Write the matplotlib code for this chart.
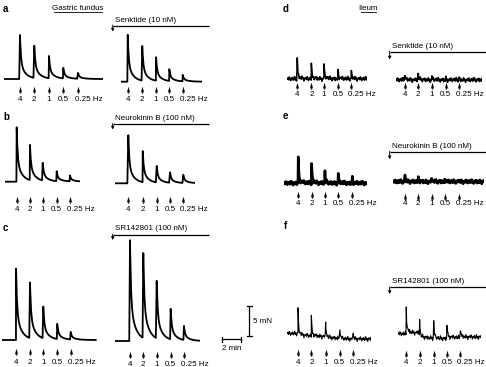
import numpy as np
import matplotlib.pyplot as plt

plt.rcParams["font.family"] = ["Liberation Sans", "DejaVu Sans"]

W, H = 486, 367
PX_MIN = 9.5   # pixels per minute (2 min bar = 19 px)
PX_MN = 5.86   # pixels per mN (5 mN bar = 29.3 px)

freq_labels = ["4", "2", "1", "0.5", "0.25 Hz"]

# peak amplitudes (mN) at 4, 2, 1, 0.5, 0.25 Hz
fundus_ctrl_a = [7.5, 5.5, 3.8, 1.8, 1.0]
fundus_senktide = [8.0, 5.9, 4.0, 2.0, 1.1]
fundus_ctrl_b = [9.3, 6.0, 3.0, 1.7, 1.0]
fundus_nkb = [8.2, 5.3, 2.8, 1.8, 1.4]
fundus_ctrl_c = [12.2, 9.5, 5.4, 2.6, 1.3]
fundus_sr = [17.2, 14.5, 9.8, 5.2, 2.4]
ileum_ctrl_d = [3.4, 2.7, 2.7, 1.7, 1.5]
ileum_senktide = [1.1, 1.2, 0.5, 0.3, 0.3]
ileum_ctrl_e = [4.7, 3.3, 1.9, 1.5, 0.9]
ileum_nkb = [0.9, 0.5, 0.5, 0.3, 0.2]
ileum_ctrl_f = [4.9, 3.6, 2.7, 1.8, 1.0]
ileum_sr = [4.3, 3.0, 3.1, 2.1, 1.4]

# stimulation times (min from start of each trace)
t_ctrl_a = [1.68, 3.19, 4.74, 6.24, 7.79]
t_senktide = [0.74, 2.27, 3.72, 5.12, 6.53]
t_ctrl_b = [1.23, 2.63, 3.97, 5.44, 6.84]
t_nkb = [1.40, 2.92, 4.39, 5.79, 7.19]
t_ctrl_c = [1.51, 2.98, 4.38, 5.85, 7.26]
t_sr = [1.58, 2.98, 4.39, 5.86, 7.26]
t_ctrl_d = [1.05, 2.53, 3.86, 5.34, 6.74]
t_ileum_senk = [0.95, 2.35, 3.82, 5.26, 6.66]
t_ctrl_e = [1.50, 2.91, 4.31, 5.71, 7.19]
t_ileum_nkb = [1.23, 2.63, 4.04, 5.44, 6.91]
t_ctrl_f = [1.13, 2.53, 4.04, 5.52, 6.92]
t_ileum_sr = [0.87, 2.28, 3.76, 5.16, 6.56]

# baseline shifts (mN) before / between / after stimulations
drift_ctrl_f = [0.4, 0.0, -0.1, -0.4, -0.55, -0.55]
drift_ileum_sr = [0.35, 0.5, -0.35, -0.5, -0.3, -0.2]

# small baseline ripple of the ileum recordings (mN)
ripple = [0.0, 0.15, -0.1, 0.25, 0.05, -0.2, 0.1, -0.05, 0.2, -0.15,
          0.0, 0.3, -0.1, 0.1, -0.25, 0.05, 0.15, -0.05, 0.2, -0.2,
          0.1, 0.0, -0.15, 0.25, -0.05, 0.1, -0.3, 0.05]

fig = plt.figure(figsize=(W / 100, H / 100), dpi=100)
page = fig.add_axes([0, 0, 1, 1])
page.set_xlim(0, W)
page.set_ylim(H, 0)
page.axis("off")

arrow_mark = [(0, 1.0), (-0.42, -0.55), (-0.06, -0.55), (-0.06, -1.0),
              (0.06, -1.0), (0.06, -0.55), (0.42, -0.55), (0, 1.0)]


def trace(x0, yb, dur, times, amps, arrow_y, label_y, kind="fundus",
          noise=0.0, lw=1.3, drift=None):
    lo, hi = 4.0, 20.0
    ax = fig.add_axes([x0 / W, 1 - (yb + lo * PX_MN) / H,
                       dur * PX_MIN / W, (lo + hi) * PX_MN / H])
    ax.set_xlim(0, dur)
    ax.set_ylim(-lo, hi)
    ax.axis("off")
    ax.patch.set_visible(False)
    step = 0.1 if kind == "fundus" else 0.07
    t = np.sort(np.concatenate([np.arange(0, dur, step), times]))
    y = np.zeros_like(t)
    if drift is not None:
        y += np.array(drift)[np.searchsorted(times, t, side="right")]
    for t0, a in zip(times, amps):
        d = t - t0
        pos = d >= 0
        if kind == "fundus":
            k = 0.62 * np.exp(-d[pos] / 0.1) + 0.38 * np.exp(-d[pos] / 0.55)
        else:
            k = 0.85 * np.exp(-d[pos] / 0.05) + 0.15 * np.exp(-d[pos] / 0.4)
        y[pos] += a * k
    if noise:
        y += noise * np.resize(ripple, len(t))
    ax.plot(t, y, color="black", lw=lw, solid_joinstyle="round")
    ya = (yb - arrow_y) / PX_MN
    yl = (yb - label_y) / PX_MN
    ax.plot(times, [ya] * len(times), ls="none", marker=arrow_mark, ms=4.6,
            mfc="black", mec="black", mew=0.2, clip_on=False)
    for t0, lab in zip(times, freq_labels):
        if lab.endswith("Hz"):
            ax.annotate(lab, (t0, yl), xytext=(-2.2, 0), textcoords="offset points",
                        ha="left", va="center", fontsize=5.8, annotation_clip=False)
        else:
            ax.text(t0, yl, lab, ha="center", va="center", fontsize=5.8,
                    clip_on=False)
    return ax


def drug(x_left, x_right, y_line, y_tip, label):
    page.plot([x_left, x_right], [y_line, y_line], color="black", lw=0.9,
              solid_capstyle="butt", clip_on=False)
    page.annotate("", xy=(x_left, y_tip), xytext=(x_left, y_line - 0.4),
                  arrowprops=dict(arrowstyle="-|>", lw=0.7, color="black",
                                  mutation_scale=4, shrinkA=0, shrinkB=0))
    page.text(x_left + 2, y_line - 5.5, label, ha="left", va="center",
              fontsize=5.8)


# gastric fundus
trace(4, 79, 10.42, t_ctrl_a, fundus_ctrl_a, 89.5, 99.5)
trace(120.7, 81.7, 8.53, t_senktide, fundus_senktide, 89.5, 99.5)
trace(5, 181.7, 7.89, t_ctrl_b, fundus_ctrl_b, 199.5, 209.5)
trace(115, 183.3, 8.42, t_nkb, fundus_nkb, 200, 209.5)
trace(1.7, 340, 10.0, t_ctrl_c, fundus_ctrl_c, 352, 362)
trace(115, 341, 8.95, t_sr, fundus_sr, 355, 364.5)

# ileum
trace(287.3, 79, 8.39, t_ctrl_d, ileum_ctrl_d, 85.5, 94.5, "ileum", 1.4, 1.1)
trace(395.7, 80, 9.12, t_ileum_senk, ileum_senktide, 85.5, 94.5, "ileum", 1.4, 1.1)
trace(284, 183.3, 8.74, t_ctrl_e, ileum_ctrl_e, 195, 203.5, "ileum", 1.2, 1.9)
trace(393.3, 181.7, 9.55, t_ileum_nkb, ileum_nkb, 196.5, 203.5, "ileum", 1.2, 1.9)
trace(287.3, 336, 8.84, t_ctrl_f, ileum_ctrl_f, 353.3, 362, "ileum", 1.5, 0.8,
      drift_ctrl_f)
trace(398, 336, 8.77, t_ileum_sr, ileum_sr, 353.5, 362.5, "ileum", 1.5, 0.8,
      drift_ileum_sr)

drug(112.7, 209.3, 25.5, 31.5, "Senktide (10 nM)")
drug(112.7, 209.3, 124, 129.5, "Neurokinin B (100 nM)")
drug(112.7, 209.3, 234.5, 240, "SR142801 (100 nM)")
drug(389.7, 486, 51.7, 59.5, "Senktide (10 nM)")
drug(389.7, 486, 151.7, 159.3, "Neurokinin B (100 nM)")
drug(389.7, 486, 287.3, 294, "SR142801 (100 nM)")

# panel letters and titles
for x, y, s in [(3, 8.5, "a"), (3, 117, "b"), (3, 228, "c"),
                (282.3, 8.5, "d"), (282.3, 116, "e"), (283.5, 226, "f")]:
    page.text(x, y, s, ha="left", va="center", fontsize=7, fontweight="bold")
page.text(78, 8.5, "Gastric fundus", ha="center", va="center", fontsize=5.8)
page.plot([54, 102], [12.3, 12.3], color="black", lw=0.6)
page.text(368, 8.3, "Ileum", ha="center", va="center", fontsize=5.8)
page.plot([360.5, 375.5], [12, 12], color="black", lw=0.6)

# scale bars
bar_x0, bar_y = 221.7, 339.3
page.plot([bar_x0, bar_x0 + 2 * PX_MIN], [bar_y, bar_y], color="black", lw=0.9)
for xx in (bar_x0, bar_x0 + 2 * PX_MIN):
    page.plot([xx, xx], [bar_y - 2.5, bar_y + 2.5], color="black", lw=0.9)
page.text(bar_x0 + PX_MIN, 348, "2 min", ha="center", va="center", fontsize=5.8)

vb_x, vb_y1 = 249.2, 335.7
page.plot([vb_x, vb_x], [vb_y1, vb_y1 - 5 * PX_MN], color="black", lw=0.9)
for yy in (vb_y1, vb_y1 - 5 * PX_MN):
    page.plot([vb_x - 2.5, vb_x + 2.5], [yy, yy], color="black", lw=0.9)
page.text(vb_x + 4, vb_y1 - 2.5 * PX_MN, "5 mN", ha="left", va="center",
          fontsize=5.8)

fig.savefig("out.png", dpi=100)
